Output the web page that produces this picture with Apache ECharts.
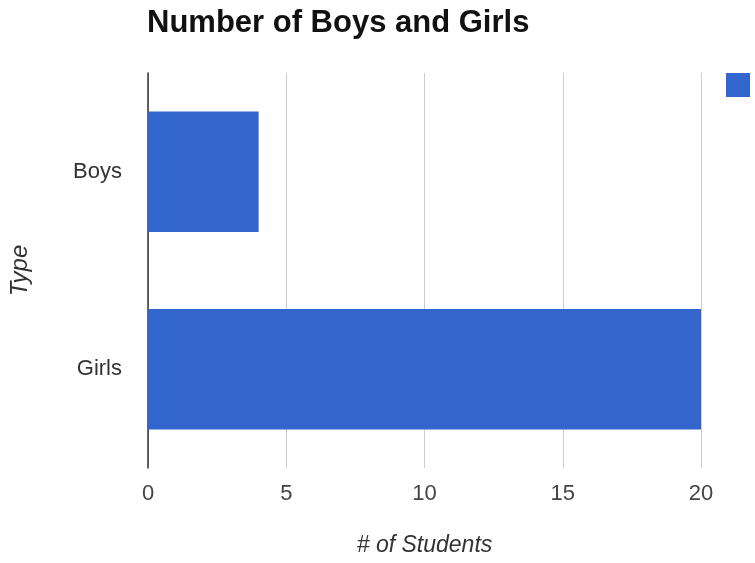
<!DOCTYPE html>
<html>
<head>
<meta charset="utf-8">
<script src="https://cdn.jsdelivr.net/npm/echarts@6/dist/echarts.min.js"></script>
<style>
html,body{margin:0;padding:0;background:#fff;}
#chart{width:755px;height:563px;}
</style>
</head>
<body>
<div id="chart"></div>
<script>
const categories = ['Boys', 'Girls'];
const students = [4, 20];
const xTicks = [0, 5, 10, 15, 20];

const chart = echarts.init(document.getElementById('chart'));
chart.setOption({
  animation: false,
  backgroundColor: '#ffffff',
  title: {
    text: 'Number of Boys and Girls',
    left: 142, top: 3,
    textStyle: { fontFamily: 'Liberation Sans', fontSize: 31, fontWeight: 'bold', color: '#111' }
  },
  legend: {
    left: 721, top: 68,
    itemWidth: 24, itemHeight: 24,
    icon: 'rect',
    data: [' '],
    textStyle: { fontSize: 1 }
  },
  grid: { left: 147, right: 54, top: 73, bottom: 95 },
  xAxis: {
    type: 'value',
    min: xTicks[0], max: xTicks[xTicks.length - 1], interval: 5,
    name: '# of Students',
    nameLocation: 'middle', nameGap: 66,
    nameTextStyle: { fontFamily: 'Liberation Sans', fontStyle: 'italic', fontSize: 23, color: '#333' },
    axisLine: { show: false },
    axisTick: { show: false },
    axisLabel: { fontFamily: 'Liberation Sans', fontSize: 22, color: '#444', margin: 15 },
    splitLine: { show: true, lineStyle: { color: '#cccccc', width: 1 } }
  },
  yAxis: {
    type: 'category',
    data: categories,
    inverse: true,
    name: 'Type',
    nameLocation: 'middle', nameGap: 116,
    nameRotate: 90,
    nameTextStyle: { fontFamily: 'Liberation Sans', fontStyle: 'italic', fontSize: 24, color: '#333' },
    axisLine: { show: true, lineStyle: { color: '#333', width: 1.5 } },
    axisTick: { show: false },
    axisLabel: { fontFamily: 'Liberation Sans', fontSize: 22, color: '#333', margin: 26 }
  },
  series: [{
    name: ' ',
    type: 'bar',
    data: students,
    barWidth: '61%',
    itemStyle: { color: '#3366cc' }
  }]
});
</script>
</body>
</html>
